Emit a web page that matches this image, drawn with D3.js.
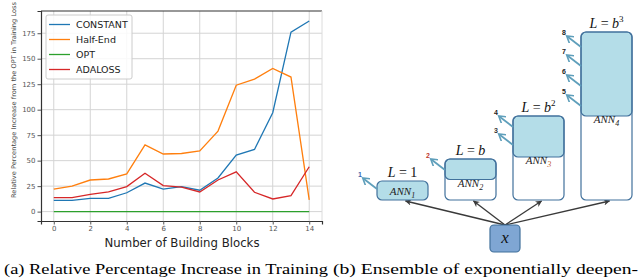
<!DOCTYPE html>
<html>
<head>
<meta charset="utf-8">
<script src="https://cdn.jsdelivr.net/npm/d3@7"></script>
<style>
  body { margin: 0; background: #fff; }
</style>
</head>
<body>
<div id="chart"></div>
<script>
// data
var blocks = [0, 1, 2, 3, 4, 5, 6, 7, 8, 9, 10, 11, 12, 13, 14];
var constant = [11, 11, 13, 13, 18.5, 28, 22, 24.5, 21, 33, 55.5, 61, 97, 176, 187];
var halfEnd = [22, 25, 31, 32, 37, 65.5, 56.5, 57, 59.5, 79, 124, 130, 140.5, 132, 11.5];
var opt = [0, 0, 0, 0, 0, 0, 0, 0, 0, 0, 0, 0, 0, 0, 0];
var adaloss = [13.7, 13.7, 17, 19.3, 24.5, 37.6, 25.5, 24, 19.3, 31, 39, 19, 12.4, 15.7, 44];
var seriesNames = ["CONSTANT", "Half-End", "OPT", "ADALOSS"];
var seriesColors = ["#1f77b4", "#ff7f0e", "#2ca02c", "#d62728"];
var xTicks = [0, 2, 4, 6, 8, 10, 12, 14];
var yTicks = [0, 25, 50, 75, 100, 125, 150, 175];

var svgWidth = 640;
var svgHeight = 279;

var margin = {top: 11, right: 318, bottom: 58, left: 41};
var chartWidth = svgWidth - margin.left - margin.right;
var chartHeight = svgHeight - margin.top - margin.bottom;

var svg = d3.select("#chart").append("svg")
    .attr("width", svgWidth)
    .attr("height", svgHeight)
    .style("font-family", "'DejaVu Sans', sans-serif");

var chartGroup = svg.append("g")
    .attr("transform", `translate(${margin.left}, ${margin.top})`);

var xScale = d3.scaleLinear()
    .domain([-0.7, 14.7])
    .range([0, chartWidth]);

var yScale = d3.scaleLinear()
    .domain([-9.2, 196.8])
    .range([chartHeight, 0]);

// grid
chartGroup.append("g").selectAll("line")
    .data(yTicks)
    .enter()
    .append("line")
    .attr("x1", 0).attr("x2", chartWidth)
    .attr("y1", d => yScale(d)).attr("y2", d => yScale(d))
    .attr("stroke", "#d4d4d4").attr("stroke-width", 1);

chartGroup.append("g").selectAll("line")
    .data(xTicks)
    .enter()
    .append("line")
    .attr("y1", 0).attr("y2", chartHeight)
    .attr("x1", d => xScale(d)).attr("x2", d => xScale(d))
    .attr("stroke", "#d4d4d4").attr("stroke-width", 1);

// axes
var xAxis = d3.axisBottom(xScale).tickValues(xTicks).tickSize(3.5).tickPadding(2);
var yAxis = d3.axisLeft(yScale).tickValues(yTicks).tickSize(3.5).tickPadding(2);

var gx = chartGroup.append("g")
    .attr("transform", `translate(0, ${chartHeight})`)
    .call(xAxis);
var gy = chartGroup.append("g").call(yAxis);

[gx, gy].forEach(function(g) {
    g.select(".domain").attr("stroke", "#333").attr("stroke-width", 1.2);
    g.selectAll(".tick line").attr("stroke", "#555");
    g.selectAll(".tick text")
        .attr("fill", "#555")
        .style("font-size", "7px")
        .style("font-family", "'DejaVu Sans', sans-serif");
});

// top and right frame
chartGroup.append("line")
    .attr("x1", 0).attr("x2", chartWidth).attr("y1", 0).attr("y2", 0)
    .attr("stroke", "#333").attr("stroke-width", 1.2);
chartGroup.append("line")
    .attr("x1", chartWidth).attr("x2", chartWidth).attr("y1", 0).attr("y2", chartHeight)
    .attr("stroke", "#dcdcdc").attr("stroke-width", 1);

// lines
var allSeries = [constant, halfEnd, opt, adaloss];
var line = d3.line()
    .x((d, i) => xScale(blocks[i]))
    .y(d => yScale(d));

// draw order so that orange sits over blue like the original
[2, 0, 1, 3].forEach(function(k) {
    chartGroup.append("path")
        .datum(allSeries[k])
        .attr("d", line)
        .attr("fill", "none")
        .attr("stroke", seriesColors[k])
        .attr("stroke-width", 1.3);
});

// legend
var legend = chartGroup.append("g").attr("transform", "translate(5, 4)");
legend.append("rect")
    .attr("width", 86).attr("height", 64).attr("rx", 2)
    .attr("fill", "#fff").attr("fill-opacity", 0.85)
    .attr("stroke", "#ccc");
seriesNames.forEach(function(name, i) {
    var yy = 9.5 + i * 15;
    legend.append("line")
        .attr("x1", 3).attr("x2", 24).attr("y1", yy).attr("y2", yy)
        .attr("stroke", seriesColors[i]).attr("stroke-width", 1.3);
    legend.append("text")
        .attr("x", 30).attr("y", yy + 3.3)
        .style("font-size", "9.5px")
        .attr("fill", "#222")
        .text(name);
});

// axis labels
svg.append("text")
    .attr("transform", "translate(16, 100) rotate(-90)")
    .attr("text-anchor", "middle")
    .attr("textLength", 196)
    .attr("lengthAdjust", "spacingAndGlyphs")
    .style("font-size", "6.5px")
    .attr("fill", "#444")
    .text("Relative Percentage Increase from the OPT in Training Loss");

svg.append("text")
    .attr("x", 182).attr("y", 247)
    .attr("text-anchor", "middle")
    .attr("textLength", 155)
    .attr("lengthAdjust", "spacingAndGlyphs")
    .style("font-size", "11.5px")
    .attr("fill", "#222")
    .text("Number of Building Blocks");

// captions
svg.append("text")
    .attr("x", 4).attr("y", 274)
    .attr("textLength", 324)
    .attr("lengthAdjust", "spacingAndGlyphs")
    .style("font-family", "'Liberation Serif', serif")
    .style("font-size", "14px")
    .attr("fill", "#000")
    .text("(a) Relative Percentage Increase in Training");

svg.append("text")
    .attr("x", 333).attr("y", 274)
    .attr("textLength", 305)
    .attr("lengthAdjust", "spacingAndGlyphs")
    .style("font-family", "'Liberation Serif', serif")
    .style("font-size", "14px")
    .attr("fill", "#000")
    .text("(b) Ensemble of exponentially deepen-");

// ---- diagram (b) ----
var boxBorder = "#41719c";
var boxFill = "#b4dde8";
var outArrow = "#5f9fbb";
var serif = "'Liberation Serif', serif";

var defs = svg.append("defs");
defs.append("marker")
    .attr("id", "headDark")
    .attr("viewBox", "0 0 10 10").attr("refX", 9).attr("refY", 5)
    .attr("markerWidth", 5).attr("markerHeight", 5)
    .attr("orient", "auto")
    .append("path").attr("d", "M0,0 L10,5 L0,10 L3,5 Z").attr("fill", "#3a3a3a");
defs.append("marker")
    .attr("id", "headBlue")
    .attr("viewBox", "0 0 10 10").attr("refX", 6).attr("refY", 5)
    .attr("markerWidth", 4.5).attr("markerHeight", 4.5)
    .attr("orient", "auto")
    .append("path").attr("d", "M0,0 L8,5 L0,10").attr("fill", "none")
    .attr("stroke", outArrow).attr("stroke-width", 2);

// boxes: x, top, fill bottom, label, exponent text
var nets = [
    {x: 377, top: 181, fillEnd: 200, sub: "1", title: "1", sup: "", outs: [{y: 189, n: "1", c: "#3a66b0"}]},
    {x: 445, top: 159, fillEnd: 179.5, sub: "2", title: "b", sup: "", outs: [{y: 170, n: "2", c: "#c0392b"}]},
    {x: 513, top: 116, fillEnd: 157, sub: "3", title: "b", sup: "2", outs: [{y: 145, n: "3", c: "#333"}, {y: 127, n: "4", c: "#222"}]},
    {x: 581, top: 32, fillEnd: 116, sub: "4", title: "b", sup: "3", outs: [{y: 106, n: "5", c: "#222"}, {y: 86, n: "6", c: "#222"}, {y: 66, n: "7", c: "#222"}, {y: 47, n: "8", c: "#222"}]}
];
var boxW = 51;
var boxBottom = 200;
var xBox = {x: 490, y: 225, w: 30, h: 27};

var diag = svg.append("g");

// arrows from x to each network
nets.forEach(function(n) {
    diag.append("line")
        .attr("x1", xBox.x + xBox.w / 2).attr("y1", xBox.y)
        .attr("x2", n.x + boxW / 2 + 3).attr("y2", boxBottom + 1)
        .attr("stroke", "#3a3a3a").attr("stroke-width", 1.3)
        .attr("marker-end", "url(#headDark)");
});

nets.forEach(function(n) {
    var h = boxBottom - n.top;
    var clipId = "clip" + n.sub;
    defs.append("clipPath").attr("id", clipId)
        .append("rect").attr("x", n.x).attr("y", n.top).attr("width", boxW).attr("height", h).attr("rx", 5);
    diag.append("rect")
        .attr("x", n.x).attr("y", n.top).attr("width", boxW).attr("height", h).attr("rx", 5)
        .attr("fill", "#fff");
    if (n.fillEnd < boxBottom) {
        diag.append("rect")
            .attr("x", n.x).attr("y", n.top).attr("width", boxW).attr("height", n.fillEnd - n.top).attr("rx", 5)
            .attr("fill", boxFill).attr("stroke", boxBorder).attr("stroke-width", 1.2);
    } else {
        diag.append("rect")
            .attr("x", n.x).attr("y", n.top).attr("width", boxW).attr("height", h).attr("rx", 5)
            .attr("fill", boxFill);
    }
    diag.append("rect")
        .attr("x", n.x).attr("y", n.top).attr("width", boxW).attr("height", h).attr("rx", 5)
        .attr("fill", "none").attr("stroke", boxBorder).attr("stroke-width", 1.2);

    // ANN label
    var ly = n.fillEnd < boxBottom ? n.fillEnd + 7 : n.top + 14;
    var t = diag.append("text")
        .attr("x", n.x + boxW / 2).attr("y", ly)
        .attr("text-anchor", "middle")
        .style("font-family", serif).style("font-style", "italic")
        .style("font-size", "11px").attr("fill", "#222");
    t.append("tspan").text("ANN");
    t.append("tspan").attr("dy", 3).style("font-size", "8px")
        .attr("fill", n.sub === "3" ? "#c0561b" : "#222").text(n.sub);

    // L = ... title
    var tt = diag.append("text")
        .attr("x", n.x + boxW / 2).attr("y", n.top - 4)
        .attr("text-anchor", "middle")
        .style("font-family", serif).style("font-size", "14px").attr("fill", "#111");
    tt.append("tspan").style("font-style", "italic").text("L");
    tt.append("tspan").text(" = ");
    tt.append("tspan").style("font-style", n.title === "1" ? "normal" : "italic").text(n.title);
    if (n.sup) tt.append("tspan").attr("dy", -6).style("font-size", "9px").text(n.sup);

    // exits
    n.outs.forEach(function(o) {
        diag.append("line")
            .attr("x1", n.x).attr("y1", o.y)
            .attr("x2", n.x - 13).attr("y2", o.y - 10)
            .attr("stroke", outArrow).attr("stroke-width", 1.8)
            .attr("marker-end", "url(#headBlue)");
        diag.append("text")
            .attr("x", n.x - 17).attr("y", o.y - 12)
            .attr("text-anchor", "middle")
            .style("font-family", "'Liberation Sans', sans-serif")
            .style("font-size", "7px").style("font-weight", "bold")
            .attr("fill", o.c).text(o.n);
    });
});

// input box
diag.append("rect")
    .attr("x", xBox.x).attr("y", xBox.y).attr("width", xBox.w).attr("height", xBox.h).attr("rx", 4)
    .attr("fill", "#7fa6d3").attr("stroke", boxBorder).attr("stroke-width", 1.2);
diag.append("text")
    .attr("x", xBox.x + xBox.w / 2).attr("y", xBox.y + 18)
    .attr("text-anchor", "middle")
    .style("font-family", serif).style("font-style", "italic")
    .style("font-size", "17px").attr("fill", "#111")
    .text("x");
</script>
</body>
</html>
